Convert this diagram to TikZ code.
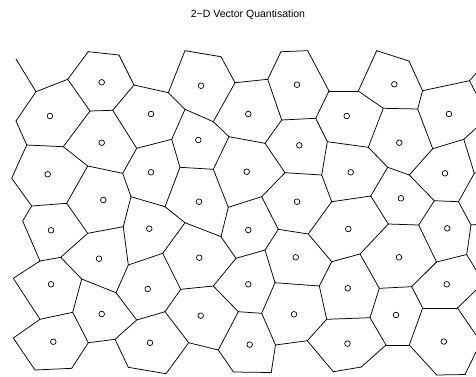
\documentclass[tikz,border=0pt]{standalone}
\usepackage{fontspec}
\setmainfont{Liberation Sans}
\begin{document}
\begin{tikzpicture}[x=1pt,y=-1pt,
  edge/.style={line width=0.75pt,black,line cap=round,line join=round},
  seed/.style={circle,draw=black,line width=0.7pt,minimum size=5.6pt,inner sep=0pt},
  title/.style={font=\fontsize{10.5pt}{12pt}\selectfont,inner sep=0pt,anchor=base}]
\useasboundingbox (0,0) rectangle (476,376);
\node[title] (t) at (248,17) {2−D Vector Quantisation};
% vertices
\coordinate (A1) at (16,59);
\coordinate (A2) at (36,91.7);
\coordinate (A3) at (67.7,79.3);
\coordinate (A4) at (88.3,51.7);
\coordinate (A5) at (119,55);
\coordinate (A6) at (134,85);
\coordinate (A7) at (90,111);
\coordinate (A8) at (112.7,110.3);
\coordinate (A9) at (136.7,148.3);
\coordinate (A10) at (63.3,146.7);
\coordinate (A11) at (26.7,145);
\coordinate (A12) at (16,121);
\coordinate (A13) at (168.3,92.7);
\coordinate (A14) at (185,50.7);
\coordinate (A15) at (221,56.7);
\coordinate (A16) at (235,82.7);
\coordinate (A17) at (267.7,79.3);
\coordinate (A18) at (281,51.7);
\coordinate (A19) at (307.7,50.7);
\coordinate (A20) at (213.3,121.7);
\coordinate (A21) at (185,109.3);
\coordinate (A22) at (171.7,139.3);
\coordinate (A23) at (229,136.7);
\coordinate (A24) at (265,143.3);
\coordinate (A25) at (281.7,120);
\coordinate (A26) at (315.7,118.3);
\coordinate (A27) at (329,91);
\coordinate (A28) at (358.3,91);
\coordinate (A29) at (376.7,50.7);
\coordinate (A30) at (409,61);
\coordinate (A31) at (422.5,90.7);
\coordinate (A32) at (469.5,80.7);
\coordinate (A33) at (383.3,108.3);
\coordinate (A34) at (417.7,109);
\coordinate (A35) at (327.3,141.7);
\coordinate (A36) at (368.3,147.3);
\coordinate (A37) at (432.7,148.7);
\coordinate (A38) at (463.8,139.3);
\coordinate (B1) at (11.7,178.3);
\coordinate (B2) at (31.7,206);
\coordinate (B3) at (66.7,203.3);
\coordinate (B4) at (87.7,166);
\coordinate (B5) at (122.7,173.3);
\coordinate (B6) at (131,196.7);
\coordinate (B7) at (123.3,226.7);
\coordinate (B8) at (87.7,233.3);
\coordinate (B9) at (60.7,257.3);
\coordinate (B10) at (40,261);
\coordinate (B11) at (22.7,221);
\coordinate (B12) at (128.3,265);
\coordinate (B13) at (180,167.3);
\coordinate (B14) at (213.3,169.3);
\coordinate (B15) at (165,206.7);
\coordinate (B16) at (185,222.7);
\coordinate (B17) at (221,236.7);
\coordinate (B18) at (228.3,207.3);
\coordinate (B19) at (261.7,196.7);
\coordinate (B20) at (285,172.7);
\coordinate (B21) at (278.3,229.3);
\coordinate (B22) at (308.3,234);
\coordinate (B23) at (265,250);
\coordinate (B24) at (236,258.3);
\coordinate (B25) at (162.7,253.3);
\coordinate (B26) at (321.7,175);
\coordinate (B27) at (331.7,201.7);
\coordinate (B28) at (370.7,196);
\coordinate (B29) at (387.7,167.3);
\coordinate (B30) at (409.3,175);
\coordinate (B31) at (434.3,200.7);
\coordinate (B32) at (458.5,201.7);
\coordinate (B33) at (388.3,224);
\coordinate (B34) at (418.7,225);
\coordinate (B35) at (436.5,262);
\coordinate (B36) at (360,254);
\coordinate (B37) at (331.7,261.7);
\coordinate (B38) at (466.7,254.5);
\coordinate (B39) at (471,225);
\coordinate (R1) at (474.3,173.3);
\coordinate (C1) at (13.3,278.3);
\coordinate (C2) at (40,319.3);
\coordinate (C3) at (72.7,312.3);
\coordinate (C4) at (81.7,279);
\coordinate (C5) at (116,292.7);
\coordinate (C6) at (136.7,320);
\coordinate (C7) at (115,339.3);
\coordinate (C8) at (88.3,342.7);
\coordinate (C9) at (71.7,368.3);
\coordinate (C10) at (35,370);
\coordinate (C11) at (13.3,338);
\coordinate (C12) at (128.3,367.3);
\coordinate (C13) at (180.7,289.3);
\coordinate (C14) at (213.3,286);
\coordinate (C15) at (238.3,311.7);
\coordinate (C16) at (261.7,313.3);
\coordinate (C17) at (275,282.7);
\coordinate (C18) at (165,311.7);
\coordinate (C19) at (188.7,342.7);
\coordinate (C20) at (218.3,350);
\coordinate (C21) at (233.5,372);
\coordinate (C22) at (271.2,372.5);
\coordinate (C23) at (275.5,345);
\coordinate (C24) at (307.3,340.7);
\coordinate (C25) at (166,373.7);
\coordinate (C26) at (319.3,286);
\coordinate (C27) at (326.7,319.3);
\coordinate (C28) at (370,317.7);
\coordinate (C29) at (379.3,288.3);
\coordinate (C30) at (411.7,286.7);
\coordinate (C31) at (422.7,308);
\coordinate (C32) at (457.5,308);
\coordinate (C33) at (409.3,345);
\coordinate (C34) at (386,345);
\coordinate (C35) at (361.2,367);
\coordinate (C36) at (333.3,371.7);
\coordinate (C37) at (436.7,375);
\coordinate (C38) at (465,374.5);
\coordinate (E1) at (476,73.3);
\coordinate (E2) at (476,93.3);
\coordinate (E3) at (476,128.3);
\coordinate (E4) at (476,172.8);
\coordinate (E5) at (476,224.5);
\coordinate (E6) at (476,270);
\coordinate (E7) at (476,290);
\coordinate (E8) at (476,335);
\coordinate (E9) at (476,352);
% edges
\foreach \a/\b in {A1/A2,A2/A3,A2/A12,A3/A4,A3/A7,A4/A5,A5/A6,A6/A8,A6/A13,A7/A8,A7/A10,A8/A9,A9/A22,A9/B5,A10/A11,A10/B4,A11/A12,A11/B1,
  A13/A14,A13/A21,A14/A15,A15/A16,A16/A17,A16/A20,A17/A18,A17/A25,A18/A19,A19/A27,A20/A21,A20/A23,A21/A22,A22/B13,A23/A24,A23/B14,A24/A25,A24/B20,A25/A26,A26/A27,A26/A35,A27/A28,A28/A29,A28/A33,A29/A30,A30/A31,A31/A32,A31/A34,A32/E1,A32/E2,A33/A34,A33/A36,A34/A37,A35/A36,A35/B26,A36/B29,A37/A38,A37/B30,A38/E3,A38/R1,
  B1/B2,B2/B3,B2/B11,B3/B4,B3/B8,B4/B5,B5/B6,B6/B7,B6/B15,B7/B8,B7/B12,B8/B9,B9/B10,B9/C4,B10/B11,B10/C1,B12/B25,B12/C5,
  B13/B14,B13/B15,B14/B18,B15/B16,B16/B17,B16/B25,B17/B18,B17/B24,B18/B19,B19/B20,B19/B21,B20/B26,B21/B22,B21/B23,B22/B27,B22/B37,B23/B24,B23/C17,B24/C14,B25/C13,
  B26/B27,B27/B28,B28/B29,B28/B33,B29/B30,B30/B31,B31/B32,B31/B34,B32/R1,R1/E4,B32/B39,B39/E5,B39/B38,B33/B34,B33/B36,B34/B35,B35/B38,B35/C30,B36/B37,B36/C29,B37/C26,B38/E6,
  C1/C2,C2/C3,C2/C11,C3/C4,C3/C8,C4/C5,C5/C6,C6/C7,C6/C18,C7/C8,C7/C12,C8/C9,C9/C10,C10/C11,C12/C25,C13/C14,C13/C18,C14/C15,C15/C16,C15/C20,C16/C17,C16/C23,C17/C26,C18/C19,C19/C20,C19/C25,C20/C21,C21/C22,C22/C23,C23/C24,C24/C27,C24/C36,C26/C27,C27/C28,C28/C29,C28/C34,C29/C30,C30/C31,C31/C32,C31/C33,C32/E7,C32/E8,C33/C34,C33/C37,C34/C35,C35/C36,C37/C38,C38/E9}
  \draw[edge] (\a) -- (\b);
% seeds
\foreach \x/\y [count=\i] in {101.7/82.3,201/85.7,297/84.7,394.3/84.3,
  50/116,151/114,248.3/114,346.7/116,449/114,
  101.7/142.7,198.3/140,299.3/145.3,399.3/142.7,
  47.7/174.3,151/172.3,246.7/171.7,350.7/172.3,445/173.3,
  103.3/200,199/201.7,297/201.7,401/198.3,
  51/230.3,149.3/228.7,248.3/230,348.3/229,447.3/228.3,
  99/258.7,199.3/257.7,295.7/257.3,399/257.3,
  51/284.3,147.7/289,248.3/284.3,347.7/288.3,446.7/284.3,
  101.7/314,200.7/315.7,294/314.3,396/315,
  53.3/341.7,150/342.8,249.7/344.6,347.5/343.6,443.8/341.5}
  \node[seed] (s\i) at (\x,\y) {};
\end{tikzpicture}
\end{document}
